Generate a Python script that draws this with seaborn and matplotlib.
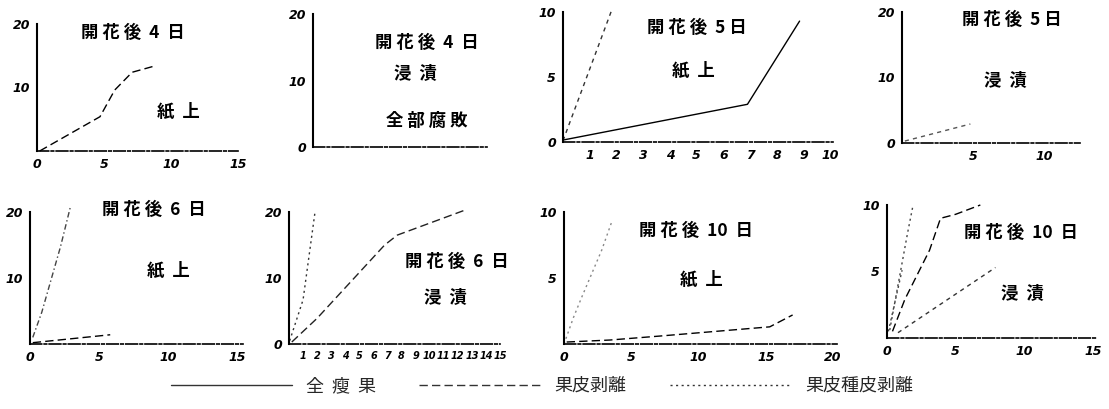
import matplotlib
matplotlib.use('Agg')
import matplotlib.pyplot as plt
import seaborn as sns
from matplotlib.lines import Line2D

sns.set_style('white')
plt.rcParams['font.family'] = ['Noto Sans CJK JP', 'DejaVu Sans']

W, H = 1109, 409

# ---- データ ----
# 開花後4日 紙上
d4p_peel_x = [0.2, 4.7, 5.8, 7.1, 8.8]
d4p_peel_y = [0.0, 5.4, 9.6, 12.4, 13.4]

# 開花後5日 紙上
d5p_whole_x = [0.0, 6.9, 8.85]
d5p_whole_y = [0.15, 2.9, 9.3]
d5p_seed_x = [0.0, 1.85]
d5p_seed_y = [0.1, 10.3]

# 開花後5日 浸漬
d5s_peel_x = [0.2, 4.8]
d5s_peel_y = [0.3, 2.9]

# 開花後6日 紙上
d6p_seed_x = [0.2, 0.85, 2.2, 2.9]
d6p_seed_y = [1.0, 4.8, 14.7, 20.6]
d6p_peel_x = [0.2, 5.8]
d6p_peel_y = [0.2, 1.4]

# 開花後6日 浸漬
d6s_seed_x = [0.05, 1.0, 1.85]
d6s_seed_y = [0.5, 6.7, 20.0]
d6s_peel_x = [0.2, 2.0, 6.8, 7.7, 12.4]
d6s_peel_y = [0.3, 3.9, 15.0, 16.5, 20.2]

# 開花後10日 紙上
d10p_seed_x = [0.0, 0.7, 1.3, 2.8, 3.6]
d10p_seed_y = [0.0, 2.0, 3.5, 7.1, 9.4]
d10p_peel_x = [0.2, 3.4, 7.1, 15.3, 17.0]
d10p_peel_y = [0.15, 0.3, 0.6, 1.3, 2.2]

# 開花後10日 浸漬
d10s_seed1_x = [0.2, 1.5, 1.9]
d10s_seed1_y = [0.6, 7.9, 10.0]
d10s_seed2_x = [0.1, 1.1]
d10s_seed2_y = [0.5, 5.1]
d10s_peel_x = [0.4, 1.3, 3.1, 3.9, 5.0, 6.8]
d10s_peel_y = [0.5, 2.9, 6.6, 9.0, 9.3, 10.0]
d10s_whole_x = [0.8, 7.9]
d10s_whole_y = [0.4, 5.3]

legend_labels = ['全  瘦  果', '果皮剥離', '果皮種皮剥離']

# 線の種類
SOLID = '-'
DASH = (0, (6, 3))
DOT = (0, (1.5, 2.5))
SHORTDASH = (0, (3, 3))


def px_rect(x0, x1, ytop, y0):
    return [x0 / W, 1 - y0 / H, (x1 - x0) / W, (y0 - ytop) / H]


fig = plt.figure(figsize=(W / 100, H / 100), dpi=100)

panels = [
    # rect, xlim, ylim, xticks, yticks, series
    dict(rect=px_rect(37, 238, 24, 151), xlim=15, ylim=20, xt=[0, 5, 10, 15], yt=[10, 20],
         series=[(d4p_peel_x, d4p_peel_y, DASH, 'black')]),
    dict(rect=px_rect(313, 487, 14, 147), xlim=15, ylim=20, xt=[], yt=[0, 10, 20],
         series=[]),
    dict(rect=px_rect(563, 833, 12, 142), xlim=10.1, ylim=10, xt=list(range(1, 11)), yt=[0, 5, 10],
         series=[(d5p_whole_x, d5p_whole_y, SOLID, 'black'),
                 (d5p_seed_x, d5p_seed_y, SHORTDASH, '#333333')]),
    dict(rect=px_rect(902, 1080, 12, 143), xlim=12.5, ylim=20, xt=[5, 10], yt=[0, 10, 20],
         series=[(d5s_peel_x, d5s_peel_y, SHORTDASH, '#555555')]),
    dict(rect=px_rect(30, 243, 212, 344), xlim=15.4, ylim=20, xt=[0, 5, 10, 15], yt=[10, 20],
         series=[(d6p_seed_x, d6p_seed_y, (0, (4, 2, 1, 2)), '#444444'),
                 (d6p_peel_x, d6p_peel_y, DASH, 'black')]),
    dict(rect=px_rect(289, 500, 212, 344), xlim=15, ylim=20, xt=list(range(1, 16)), yt=[0, 10, 20],
         xfs=7, series=[(d6s_seed_x, d6s_seed_y, DOT, '#333333'),
                        (d6s_peel_x, d6s_peel_y, DASH, '#222222')]),
    dict(rect=px_rect(564, 837, 212, 344), xlim=20.3, ylim=10, xt=[0, 5, 10, 15, 20], yt=[5, 10],
         series=[(d10p_seed_x, d10p_seed_y, DOT, '#888888'),
                 (d10p_peel_x, d10p_peel_y, DASH, 'black')]),
    dict(rect=px_rect(887, 1097, 205, 338), xlim=15.3, ylim=10, xt=[0, 5, 10, 15], yt=[5, 10],
         series=[(d10s_seed1_x, d10s_seed1_y, DOT, '#444444'),
                 (d10s_seed2_x, d10s_seed2_y, DOT, '#444444'),
                 (d10s_peel_x, d10s_peel_y, DASH, 'black'),
                 (d10s_whole_x, d10s_whole_y, SHORTDASH, '#333333')]),
]

tick_font = dict(fontstyle='italic', fontweight='bold', family='DejaVu Sans')

for p in panels:
    ax = fig.add_axes(p['rect'])
    for xs, ys, ls, c in p['series']:
        sns.lineplot(x=xs, y=ys, ax=ax, color=c, linestyle=ls, linewidth=1.0,
                     sort=False, estimator=None, clip_on=False)
    ax.set_xlim(0, p['xlim'])
    ax.set_ylim(0, p['ylim'])
    ax.set_xticks(p['xt'])
    ax.set_yticks(p['yt'])
    ax.set_xticklabels([str(t) for t in p['xt']], fontsize=p.get('xfs', 9), **tick_font)
    ax.set_yticklabels([str(t) for t in p['yt']], fontsize=9, **tick_font)
    ax.tick_params(length=2, width=0.8, pad=3, colors='black')
    for s in ['top', 'right']:
        ax.spines[s].set_visible(False)
    ax.spines['left'].set_linewidth(1.5)
    ax.spines['left'].set_color('black')
    ax.spines['bottom'].set_linewidth(1.2)
    ax.spines['bottom'].set_color('black')
    ax.spines['bottom'].set_linestyle((0, (7, 1.5, 1.5, 1.5)))
    ax.set_facecolor('none')

# パネル内の注記
notes = [
    (133, 33, '開 花 後  4  日'), (178, 112, '紙  上'),
    (427, 43, '開 花 後  4  日'), (415, 73, '浸  漬'), (427, 121, '全 部 腐 敗'),
    (697, 28, '開 花 後  5 日'), (693, 71, '紙  上'),
    (1012, 20, '開 花 後  5 日'), (1005, 80, '浸  漬'),
    (154, 210, '開 花 後  6  日'), (168, 271, '紙  上'),
    (457, 262, '開 花 後  6  日'), (445, 297, '浸  漬'),
    (696, 231, '開 花 後  10  日'), (701, 280, '紙  上'),
    (1021, 233, '開 花 後  10  日'), (1022, 293, '浸  漬'),
]
for x, y, t in notes:
    fig.text(x / W, 1 - y / H, t, ha='center', va='center', fontsize=12.5,
             fontweight='bold', color='black')

handles = [Line2D([], [], color='#333333', lw=1.0, linestyle=SOLID),
           Line2D([], [], color='#333333', lw=1.0, linestyle=DASH),
           Line2D([], [], color='#333333', lw=1.0, linestyle=DOT)]
fig.legend(handles, legend_labels, loc='center', bbox_to_anchor=(542 / W, 1 - 386 / H),
           ncol=3, frameon=False, fontsize=13, handlelength=6.7, handletextpad=0.8,
           columnspacing=2.4)

fig.savefig('out.png', dpi=100)
